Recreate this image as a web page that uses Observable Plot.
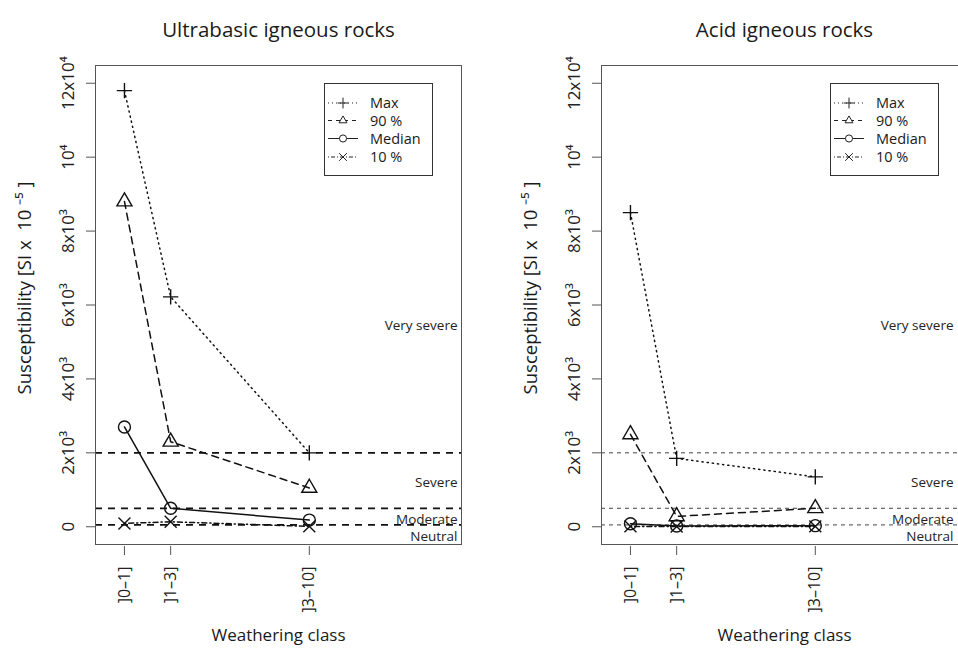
<!DOCTYPE html>
<html><head><meta charset="utf-8">
<script src="https://cdn.jsdelivr.net/npm/d3@7"></script>
<script src="https://cdn.jsdelivr.net/npm/@observablehq/plot@0.6"></script>
<style>
html,body{margin:0;padding:0;background:#fff;overflow:hidden;width:958px;height:648px}
#wrap{position:relative;width:958px;height:648px;overflow:hidden;font-family:"Open Sans",sans-serif;color:#1a1a1a}
.panel{position:absolute;top:0;width:506px;height:648px}
.panel svg{max-width:none !important}
.legend{position:absolute;top:83px}
</style></head><body><div id="wrap"></div>
<script>
// ---- data ----
const classLabels = ["]0–1]", "]1–3]", "]3–10]"];
const classPos = [0.5, 2, 6.5];
const seriesNames = ["Max", "90 %", "Median", "10 %"];
const ultraMax = [11800, 6220, 2000];
const ultra90 = [8800, 2300, 1050];
const ultraMedian = [2700, 500, 180];
const ultra10 = [90, 135, 10];
const acidMax = [8500, 1850, 1350];
const acid90 = [2500, 280, 500];
const acidMedian = [80, 20, 30];
const acid10 = [10, 5, 10];
const yTickValues = [0, 2000, 4000, 6000, 8000, 10000, 12000];
const yTickLabels = ["0", "2x10³", "4x10³", "6x10³", "8x10³", "10⁴", "12x10⁴"];
const thresholds = [2000, 500, 50];
const zoneNames = ["Very severe", "Severe", "Moderate", "Neutral"];
const zoneY = [5450, 1200, 200, -270];
const titles = ["Ultrabasic igneous rocks", "Acid igneous rocks"];
const yLabel = "Susceptibility [SI x  10 ⁻⁵ ]";
const xLabel = "Weathering class";

// ---- styles ----
const styles = {
  "Max": {symbol: "plus", r: 5, dash: "1.2,4", ldash: "1,3", lsym: d3.symbolPlus, lsize: 40},
  "90 %": {symbol: "triangle2", r: 7.2, dash: "7,5", ldash: "4,4", lsym: d3.symbolTriangle2, lsize: 45},
  "Median": {symbol: "circle", r: 6, dash: null, ldash: null, lsym: d3.symbolCircle, lsize: 40},
  "10 %": {symbol: "times", r: 5.5, dash: "1.2,3,5,3", ldash: "1,2,4,2", lsym: d3.symbolX, lsize: 40}
};

const W = 506, H = 648;
const wrap = document.getElementById("wrap");

function panel(idx, seriesValues, opts) {
  const rows = [];
  seriesNames.forEach((s, i) => seriesValues[i].forEach((v, j) => rows.push({series: s, pos: classPos[j], value: v})));
  const marks = [
    Plot.ruleY(thresholds, {stroke: opts.thrStroke, strokeWidth: opts.thrWidth, strokeDasharray: opts.thrDash}),
    Plot.frame({stroke: "#555", strokeWidth: 1}),
    Plot.axisY({ticks: yTickValues, tickSize: 9, tickFormat: () => "", label: null, stroke: "#555"}),
    Plot.axisX({ticks: classPos, tickSize: 9, tickFormat: () => "", label: null, stroke: "#555", dy: 2}),
    Plot.text(yTickValues, {y: d => d, text: (d, i) => yTickLabels[i], frameAnchor: "left", dx: -27, rotate: -90, textAnchor: "middle", lineAnchor: "middle", fontSize: 17, fill: "#222"}),
    Plot.text(classPos, {x: d => d, text: (d, i) => classLabels[i], frameAnchor: "bottom", dy: 22, rotate: -90, textAnchor: "end", lineAnchor: "middle", fontSize: 16, fill: "#222"}),
    Plot.text(zoneY, {y: d => d, text: (d, i) => zoneNames[i], frameAnchor: "right", dx: opts.zoneDx, textAnchor: "end", lineAnchor: "middle", fontSize: 13.5, fill: "#222"}),
    Plot.text([titles[idx]], {frameAnchor: "top", dy: -35, textAnchor: "middle", lineAnchor: "middle", fontSize: 20.5, fill: "#1a1a1a"}),
    Plot.text([yLabel], {frameAnchor: "left", dx: -70, dy: -17, rotate: -90, textAnchor: "middle", lineAnchor: "middle", fontSize: 18.5, fill: "#1a1a1a"}),
    Plot.text([xLabel], {frameAnchor: "bottom", dy: 91, textAnchor: "middle", lineAnchor: "middle", fontSize: 17, fill: "#1a1a1a"})
  ];
  seriesNames.forEach(s => {
    const st = styles[s];
    const data = rows.filter(r => r.series === s);
    marks.push(Plot.line(data, {x: "pos", y: "value", stroke: "#111", strokeWidth: 1.5, strokeDasharray: st.dash}));
    marks.push(Plot.dot(data, {x: "pos", y: "value", symbol: st.symbol, r: st.r, stroke: "#111", fill: "none", strokeWidth: 1.4}));
  });
  const chart = Plot.plot({
    width: W, height: H,
    marginLeft: 95, marginRight: 45, marginTop: 65, marginBottom: 104,
    style: {fontFamily: "'Open Sans', sans-serif", background: "transparent", overflow: "visible", maxWidth: "none"},
    x: {type: "linear", domain: [-0.44, 11.44]},
    y: {type: "linear", domain: [-480, 12480]},
    marks
  });
  chart.style.maxWidth = "none";
  chart.setAttribute("width", W);
  chart.setAttribute("height", H);
  const div = document.createElement("div");
  div.className = "panel";
  div.style.left = opts.left + "px";
  div.appendChild(chart);
  wrap.appendChild(div);

  // legend box
  const lg = document.createElement("div");
  lg.className = "legend";
  lg.style.left = (opts.left + 324) + "px";
  wrap.appendChild(lg);
  const svg = d3.select(lg).append("svg").attr("width", 110).attr("height", 94);
  svg.append("rect").attr("x", 0.5).attr("y", 0.5).attr("width", 108).attr("height", 92)
    .attr("fill", "white").attr("stroke", "#333").attr("stroke-width", 1);
  const rowY = [20, 37.5, 55.5, 74];
  seriesNames.forEach((s, i) => {
    const st = styles[s];
    const g = svg.append("g").attr("transform", `translate(0,${rowY[i]})`);
    g.append("line").attr("x1", 4).attr("x2", 34).attr("y1", 0).attr("y2", 0)
      .attr("stroke", "#222").attr("stroke-width", 1).attr("stroke-dasharray", st.ldash);
    g.append("path").attr("d", d3.symbol(st.lsym, st.lsize)()).attr("transform", "translate(19,0)")
      .attr("fill", "white").attr("stroke", "#222").attr("stroke-width", 1);
    g.append("text").attr("x", 46).attr("y", 0).attr("dy", "0.35em").attr("font-size", 14.5)
      .attr("font-family", "'Open Sans', sans-serif").attr("fill", "#1a1a1a").text(s);
  });
}

panel(0, [ultraMax, ultra90, ultraMedian, ultra10], {left: 0, thrStroke: "#111", thrWidth: 1.8, thrDash: "7,6", zoneDx: -4});
panel(1, [acidMax, acid90, acidMedian, acid10], {left: 506, thrStroke: "#444", thrWidth: 1, thrDash: "4,4", zoneDx: -14});
</script>
</body></html>
